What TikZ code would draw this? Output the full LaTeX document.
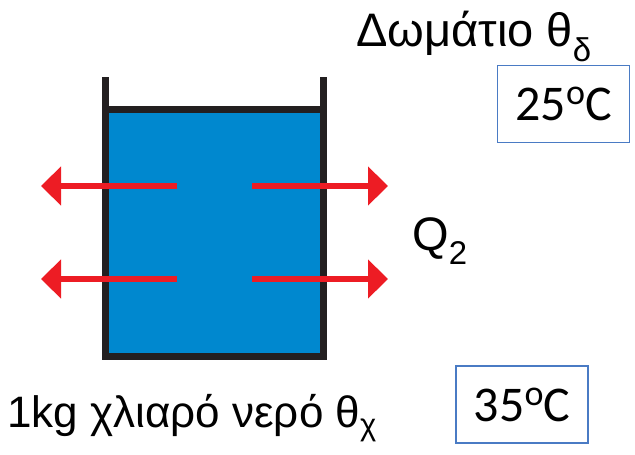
\documentclass[tikz,border=0pt]{standalone}
\usepackage{fontspec}
\setmainfont{Liberation Sans}
\newfontfamily\calfont{Carlito}
\usetikzlibrary{arrows.meta}
\definecolor{watercolor}{HTML}{0088CF}
\definecolor{wallcolor}{HTML}{231F20}
\definecolor{heatcolor}{HTML}{ED1C24}
\definecolor{boxcolor}{HTML}{4A7BC4}
\newcommand{\dego}{\raisebox{16pt}{\fontsize{36}{36}\selectfont o}}

\begin{document}
\begin{tikzpicture}[x=1pt, y=-1pt]
  \tikzset{
    label text/.style={font=\fontsize{47}{52}\selectfont, inner sep=0pt, anchor=base west},
    temp box/.style={draw=boxcolor, line width=1.6pt, fill=white, inner sep=0pt,
      font=\calfont\fontsize{50}{56}\selectfont, minimum width=132pt, minimum height=77pt},
    heat arrow/.style={-{Triangle[length=20pt, width=38pt]}, line width=6pt, color=heatcolor}
  }
  \useasboundingbox (0,0) rectangle (635,455);

  % Water
  \fill[watercolor] (105.5,109) rectangle (323,356);
  % Container
  \draw[wallcolor, line width=7pt] (105.5,77) -- (105.5,356) -- (323,356) -- (323,77);
  \draw[wallcolor, line width=7pt] (105.5,109) -- (323,109);

  % Heat flow arrows
  \foreach \y in {186,279} {
    \coordinate (lt\y) at (177,\y);
    \coordinate (lh\y) at (41,\y);
    \coordinate (rt\y) at (252,\y);
    \coordinate (rh\y) at (388,\y);
    \draw[heat arrow] (lt\y) -- (lh\y);
    \draw[heat arrow] (rt\y) -- (rh\y);
  }

  % Labels
  \node[label text] (room) at (356,46) {Δωμάτιο θ\textsubscript{δ}};
  \node[label text] (heat) at (412,250) {Q\textsubscript{2}};
  \node[label text, font=\fontsize{44}{50}\selectfont] (water) at (7,427) {1kg χλιαρό νερό θ\textsubscript{χ}};

  % Temperature boxes
  \node[temp box] (roomtemp) at (563.5,104) {25\dego C};
  \node[temp box] (watertemp) at (522,404.5) {35\dego C};
\end{tikzpicture}
\end{document}
